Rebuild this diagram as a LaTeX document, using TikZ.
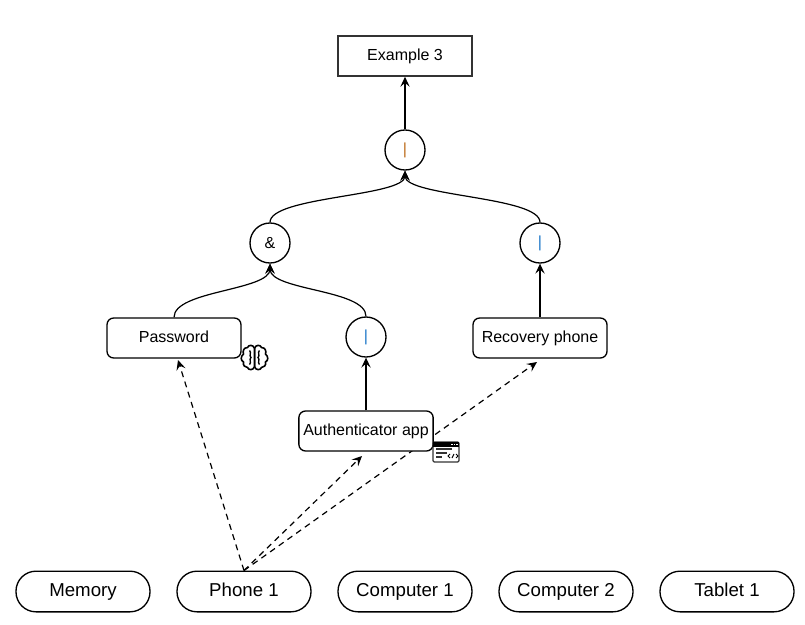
\documentclass[tikz,border=0pt]{standalone}
\usepackage{fontspec}
\setmainfont{Liberation Sans}
\usetikzlibrary{positioning, backgrounds, arrows.meta}
\definecolor{orbarTop}{RGB}{190,110,30}
\definecolor{orbar}{RGB}{30,120,200}

\tikzset{
  titlebox/.style={draw=black!80, line width=1.2pt, fill=white, minimum width=100.5pt, minimum height=30pt, text height=9pt, text depth=2.1pt, font=\fontsize{12}{14}\selectfont},
  factor/.style={draw, line width=1pt, fill=white, rounded corners=5pt, minimum width=100.5pt, minimum height=30pt, text height=9pt, text depth=2.1pt, font=\fontsize{12}{14}\selectfont},
  gate/.style={draw, line width=1pt, fill=white, circle, minimum size=30pt, inner sep=0pt, font=\fontsize{12}{14}\selectfont},
  device/.style={draw, line width=1pt, fill=white, rounded corners=15pt, minimum width=100.5pt, minimum height=30.5pt, text height=10.5pt, text depth=2.7pt, font=\fontsize{14}{16}\selectfont},
  link/.style={line width=.9pt, -{Stealth[length=7.5pt, width=7pt, inset=3pt]}},
  uses/.style={line width=.9pt, dash pattern=on 4.5pt off 3.5pt, -{Stealth[length=7.5pt, width=7pt, inset=3pt]}},
  brain/.pic={
    \foreach \s in {1,-1} {
      \begin{scope}[xscale=\s]
      \draw[line width=1.2pt, fill=white] (0,-9) .. controls (1,-13) and (6,-13) .. (7,-10)
        .. controls (11,-10) and (12,-6) .. (11,-3.5) .. controls (14,-1) and (14,3) .. (11,4.5)
        .. controls (12,8) and (9,10) .. (7,10) .. controls (6,13) and (1,13) .. (0,9) -- cycle;
      \draw[line width=1pt] (5,-7) .. controls (2.5,-5) and (6,-2) .. (3.5,0) .. controls (6,2) and (2.5,5) .. (5,7);
      \end{scope}
    }
  },
  codewin/.pic={
    \draw[line width=.9pt, draw=black!80, fill=white, rounded corners=1pt] (-13,-10) rectangle (13,10);
    \fill[black] (-13,-10) rectangle (13,-5);
    \foreach \d in {6,8.5,11} { \fill[white] (\d-.6,-8) rectangle (\d+.6,-7); }
    \draw[line width=.9pt, black!80] (-10,-3) -- (6,-3) (-10,1) -- (1,1) (-10,5) -- (-4,5);
    \draw[line width=.7pt] (4,2) -- (2,4) -- (4,6) (8,2) -- (6,6) (10,2) -- (12,4) -- (10,6);
  }
}

\begin{document}
\begin{tikzpicture}[x=.75pt, y=-.75pt]
\useasboundingbox (0,0) rectangle (805,624);

% tree is laid out centre to centre
\begin{scope}[on grid]
\node [titlebox] at (405,56)                    (root)     {Example 3};
\node [gate, below=70.5pt of root]              (orTop)    {\textcolor{orbarTop}{|}};
\node [gate, below left=69.75pt and 101.25pt of orTop]  (andGate)  {\&};
\node [gate, below right=69.75pt and 101.25pt of orTop] (orRight)  {\textcolor{orbar}{|}};
\node [factor, below left=71.25pt and 72pt of andGate]  (password) {Password};
\node [gate, below right=70.5pt and 72pt of andGate]    (orApp)    {\textcolor{orbar}{|}};
\node [factor, below=71.25pt of orRight]        (recovery) {Recovery phone};
\node [factor, below=70.5pt of orApp]           (authApp)  {Authenticator app};

\node [device] at (83,591.5)                    (memory)   {Memory};
\node [device, right=120.75pt of memory]        (phone)    {Phone 1};
\node [device, right=120.75pt of phone]         (compA)    {Computer 1};
\node [device, right=120.75pt of compA]         (compB)    {Computer 2};
\node [device, right=120.75pt of compB]         (tablet)   {Tablet 1};
\end{scope}

\pic at (254.5,357.5) {brain};
\pic at (446,452) {codewin};

\draw [link] (orTop) -- (root);
\draw [link] (andGate.north) .. controls +(0,-26) and +(0,26) .. (orTop.south);
\draw [link] (orRight.north) .. controls +(0,-26) and +(0,26) .. (orTop.south);
\draw [link] (recovery) -- (orRight);
\draw [link] (password.north) .. controls +(0,-27) and +(0,27) .. (andGate.south);
\draw [link] (orApp.north) .. controls +(0,-27) and +(0,27) .. (andGate.south);
\draw [link] (authApp) -- (orApp);

% dashed ones stop short of the boxes and run under them
\coordinate (pwdTip) at (178,360);
\coordinate (appTip) at (362,456);
\coordinate (recTip) at (537,362);
\begin{scope}[on background layer]
\draw [uses] (phone.north) -- (pwdTip);
\draw [uses] (phone.north) -- (appTip);
\draw [uses] (phone.north) -- (recTip);
\end{scope}
\end{tikzpicture}
\end{document}
